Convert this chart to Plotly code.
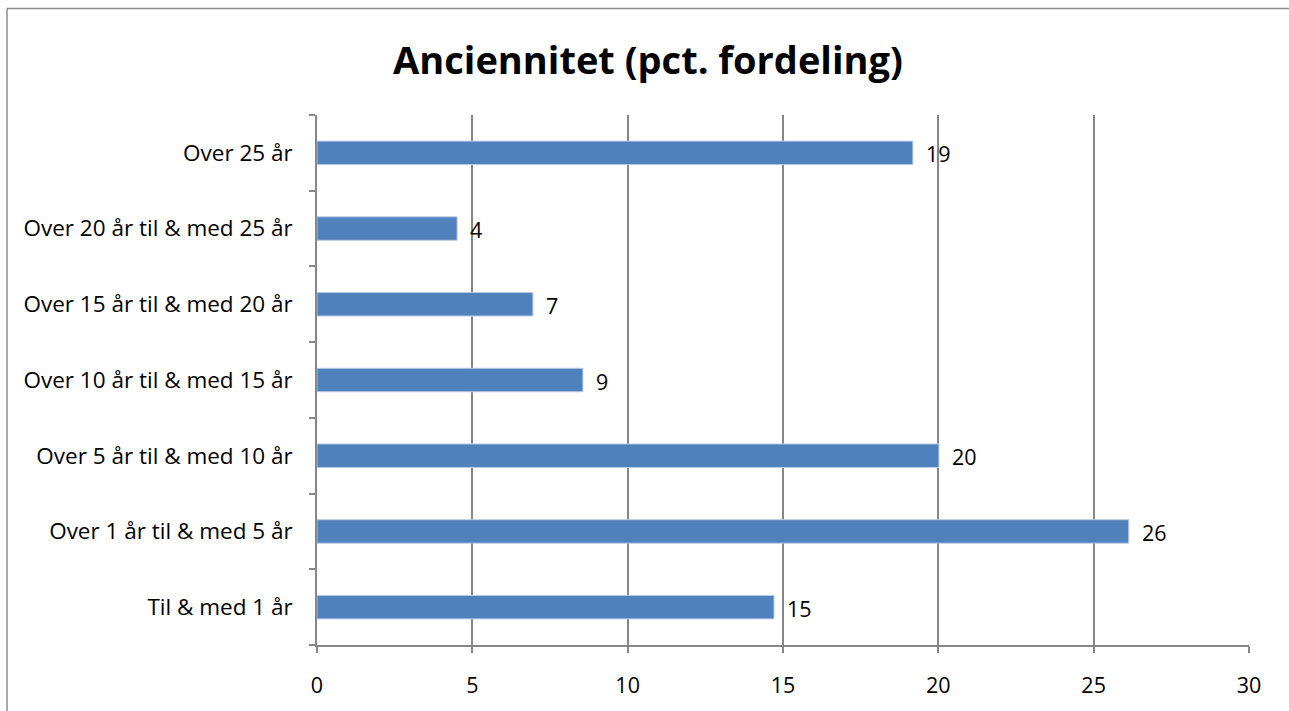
import plotly.graph_objects as go

categories = [
    "Til & med 1 år",
    "Over 1 år til & med 5 år",
    "Over 5 år til & med 10 år",
    "Over 10 år til & med 15 år",
    "Over 15 år til & med 20 år",
    "Over 20 år til & med 25 år",
    "Over 25 år",
]
values = [14.71, 26.13, 20.02, 8.56, 6.95, 4.51, 19.18]
labels = ["15", "26", "20", "9", "7", "4", "19"]

FONT = "Open Sans"
FS = 22.5
fig = go.Figure()
fig.add_trace(go.Bar(
    x=values, y=categories, orientation="h",
    marker=dict(color="#4F81BD", line=dict(color="#B9CDE5", width=1)),
    width=0.31, showlegend=False, hoverinfo="x+y",
))
for v, c, t in zip(values, categories, labels):
    fig.add_annotation(x=v, y=c, text=t, showarrow=False, xanchor="left",
                       xshift=11, yshift=-1, font=dict(family=FONT, size=21.5, color="black"))

bx0 = (7 - 317) / 932
by1 = (652 - 7) / 537
border = dict(color="#8C8C8C", width=1.5)
fig.update_layout(
    width=1289, height=711,
    margin=dict(l=317, r=40, t=115, b=59),
    paper_bgcolor="white", plot_bgcolor="white",
    title=dict(text="<b>Anciennitet (pct. fordeling)</b>", x=0.5027, xanchor="center",
               y=0.915, yanchor="middle", font=dict(family=FONT, size=38, color="black")),
    xaxis=dict(range=[0, 30], dtick=5, tick0=0, showgrid=True, gridcolor="#868686", gridwidth=1.5,
               showline=True, linecolor="#868686", linewidth=1.5, ticks="outside", ticklen=6,
               tickcolor="#868686", tickwidth=1.5, zeroline=False, ticklabelstandoff=14,
               tickfont=dict(family=FONT, size=21.5, color="black")),
    yaxis=dict(showline=True, linecolor="#868686", linewidth=1.5, ticks="outside", ticklen=6,
               tickcolor="#868686", tickwidth=1.5, tickson="boundaries", showgrid=False,
               ticklabelstandoff=18, tickfont=dict(family=FONT, size=FS, color="black")),
    shapes=[
        dict(type="line", xref="paper", yref="paper", x0=bx0, x1=1.1, y0=by1, y1=by1, line=border),
        dict(type="line", xref="paper", yref="paper", x0=bx0, x1=bx0, y0=-0.2, y1=by1, line=border),
    ],
)
fig.write_html("out.html", config={"displayModeBar": False},
               post_script="document.body.style.margin='0';document.body.style.padding='0';"
                           "document.body.style.overflow='hidden';"
                           "document.documentElement.style.overflow='hidden';")
